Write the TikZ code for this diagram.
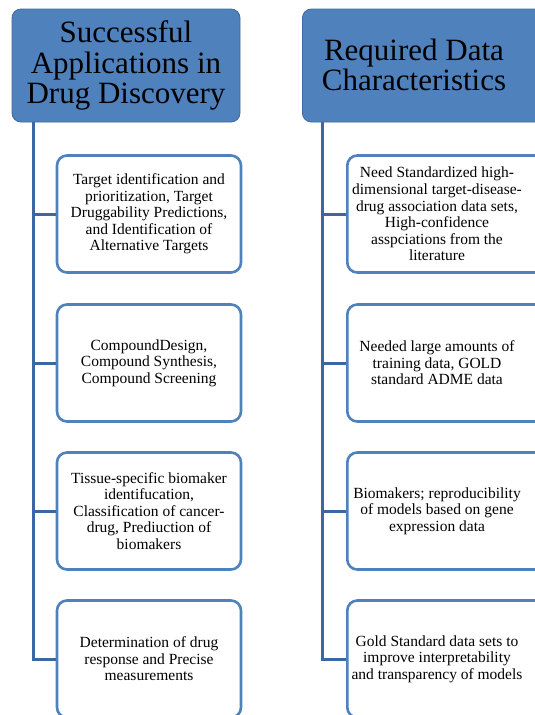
\documentclass[tikz,border=0pt]{standalone}
\usepackage{fontspec}
\setmainfont{Liberation Serif}

\definecolor{headblue}{RGB}{79,129,189}
\definecolor{headline}{RGB}{64,106,158}
\definecolor{trunkblue}{RGB}{60,103,160}

\begin{document}
\begin{tikzpicture}[x=1pt,y=-1pt,
  head/.style={draw=headline, line width=0.8pt, fill=headblue, rounded corners=9pt,
    minimum width=228pt, minimum height=113pt, inner sep=0pt},
  headtext/.style={align=center, font=\fontsize{31}{30.5}\selectfont},
  itembox/.style={draw=headblue, line width=2.6pt, fill=white, rounded corners=10pt,
    minimum width=184pt, minimum height=117pt, inner sep=0pt},
  itemtext/.style={align=center, font=\fontsize{15.5}{16.6}\selectfont},
  trunk/.style={draw=trunkblue, line width=3pt}]

\useasboundingbox (0,0) rectangle (535,715);
\clip (0,0) rectangle (535,715);

% left column
\node[head, headtext] (lhead) at (126,65.5) {Successful\\Applications in\\Drug Discovery};
\coordinate (ltop) at (33,122);

\node[itembox, itemtext] (l1) at (149,214) {Target identification and\\prioritization, Target\\Druggability Predictions,\\and Identification of\\Alternative Targets};
\node[itembox, itemtext] (l2) at (149,363) {CompoundDesign,\\Compound Synthesis,\\Compound Screening};
\node[itembox, itemtext] (l3) at (149,511) {Tissue-specific biomaker\\identifucation,\\Classification of cancer-\\drug, Prediuction of\\biomakers};
\node[itembox, itemtext] (l4) at (149,659) {Determination of drug\\response and Precise\\measurements};

\draw[trunk] (ltop) |- (l4.west);
\foreach \i in {1,2,3}
  \draw[trunk] (ltop |- l\i.west) -- (l\i.west);

% right column
\node[head, minimum width=245pt, anchor=west] (rhead) at (302,65.5) {};
\node[headtext] (rtitle) at (414,65) {Required Data\\Characteristics};
\coordinate (rtop) at (322,122);

\node[itembox, minimum width=200pt, anchor=west] (r1) at (346,214) {};
\node[itembox, minimum width=200pt, anchor=west] (r2) at (346,363) {};
\node[itembox, minimum width=200pt, anchor=west] (r3) at (346,511) {};
\node[itembox, minimum width=200pt, anchor=west] (r4) at (346,659) {};

\node[itemtext] (rt1) at (437,214) {Need Standardized high-\\dimensional target-disease-\\drug association data sets,\\High-confidence\\asspciations from the\\literature};
\node[itemtext] (rt2) at (437,363) {Needed large amounts of\\training data, GOLD\\standard ADME data};
\node[itemtext] (rt3) at (437,511) {Biomakers; reproducibility\\of models based on gene\\expression data};
\node[itemtext] (rt4) at (437,659) {Gold Standard data sets to\\improve interpretability\\and transparency of models};

\draw[trunk] (rtop) |- (r4.west);
\foreach \i in {1,2,3}
  \draw[trunk] (rtop |- r\i.west) -- (r\i.west);

\end{tikzpicture}
\end{document}
